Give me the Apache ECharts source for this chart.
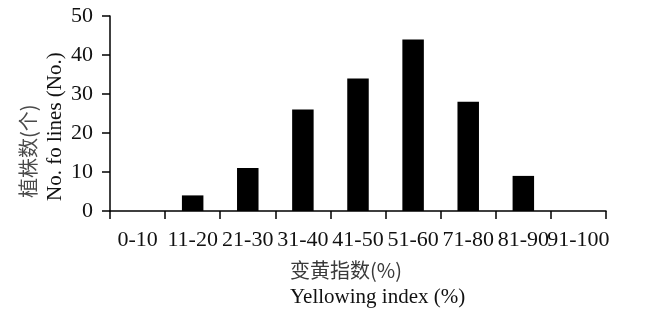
<!DOCTYPE html>
<html><head><meta charset="utf-8">
<script src="https://cdn.jsdelivr.net/npm/echarts@6/dist/echarts.min.js"></script>
<style>html,body{margin:0;padding:0;background:#fff}#c{width:649px;height:323px}</style>
</head><body><div id="c"></div>
<script>
const categories = ['0-10','11-20','21-30','31-40','41-50','51-60','71-80','81-90','91-100'];
const counts = [0, 4, 11, 26, 34, 44, 28, 9, 0];
const yTicks = [0, 10, 20, 30, 40, 50];
const xNameCn = '变黄指数(%)';
const xNameEn = 'Yellowing index (%)';
const yNameCn = '植株数(个)';
const yNameEn = 'No. fo lines (No.)';

const serif = '"Liberation Serif","DejaVu Serif",serif';
const cjk = '"Noto Sans CJK SC","Liberation Serif",serif';
const chart = echarts.init(document.getElementById('c'), null, {renderer:'canvas'});
chart.setOption({
  animation:false,
  grid:{left:110,right:43,top:16,bottom:112,containLabel:false},
  xAxis:{type:'category',data:categories,boundaryGap:true,
    axisLine:{lineStyle:{color:'#000',width:1.5}},
    axisTick:{show:true,length:8,alignWithLabel:false,lineStyle:{color:'#000',width:1.5}},
    axisLabel:{color:'#111',fontFamily:serif,fontSize:22,margin:18,interval:0}},
  yAxis:{type:'value',min:yTicks[0],max:yTicks[yTicks.length-1],interval:10,
    splitLine:{show:false},
    axisLine:{show:true,lineStyle:{color:'#000',width:1.5}},
    axisTick:{show:true,length:8,lineStyle:{color:'#000',width:1.5}},
    axisLabel:{color:'#111',fontFamily:serif,fontSize:22,margin:17}},
  series:[{type:'bar',data:counts,barWidth:'39%',itemStyle:{color:'#000'}}],
  graphic:[
    {type:'text',left:290,top:260,style:{text:xNameCn,font:'20px '+cjk,fill:'#3a3a3a'}},
    {type:'text',left:290,top:287,style:{text:xNameEn,font:'21px '+serif,fill:'#111'}},
    {type:'text',x:28,y:198,rotation:Math.PI/2,style:{text:yNameCn,font:'20px '+cjk,fill:'#4a4a4a',align:'left',verticalAlign:'middle'}},
    {type:'text',x:55,y:201,rotation:Math.PI/2,style:{text:yNameEn,font:'21px '+serif,fill:'#111',align:'left',verticalAlign:'middle'}}
  ]
});
</script></body></html>
